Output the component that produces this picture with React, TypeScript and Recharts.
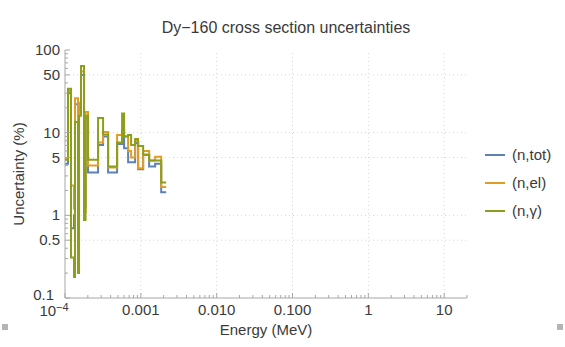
import React from 'react';
import { LineChart, Line, XAxis, YAxis, ReferenceLine } from 'recharts';

// Group boundaries (MeV) and relative uncertainties (%) per reaction channel
const energies = [
  1.0e-4, 1.095e-4, 1.2e-4, 1.315e-4, 1.356e-4, 1.485e-4, 1.531e-4, 1.627e-4,
  1.782e-4, 1.866e-4, 2.013e-4, 2.729e-4, 3.177e-4, 3.699e-4, 4.862e-4, 5.662e-4,
  6.017e-4, 6.796e-4, 7.445e-4, 8.41e-4, 9.21e-4, 1.073e-3, 1.287e-3, 1.545e-3,
  1.855e-3, 2.159e-3,
];
const totUnc = [
  4.2, 30, 0.7, 1.0, 22, 0.8, 20, 50, 1.27, 15, 3.3, 7.1, 9.0, 3.3, 7.3, 10.8,
  6.5, 4.4, 4.4, 7.5, 3.6, 5.4, 3.9, 4.2, 1.9, 1.9,
];
const elUnc = [
  4.9, 32, 2.3, 1.2, 26, 1.0, 23, 55, 1.1, 17.8, 4.0, 7.6, 10.2, 3.8, 9.4, 9.4,
  9.0, 6.0, 5.0, 8.0, 3.7, 6.0, 4.6, 5.1, 2.2, 2.2,
];
const gammaUnc = [
  4.7, 34, 0.31, 0.18, 13.5, 0.2, 16, 64, 0.88, 16, 4.7, 15, 9.5, 3.9, 7.6, 17,
  9.0, 9.4, 7.1, 8.4, 6.9, 5.4, 4.6, 4.6, 2.5, 2.5,
];

const seriesNames = ['(n,tot)', '(n,el)', '(n,\u03b3)'];
const seriesColors = ['#5e81b5', '#e19c24', '#8c9f1a'];

const xMajor = [1e-4, 1e-3, 1e-2, 1e-1, 1, 10];
const xLabels = ['10^-4', '0.001', '0.010', '0.100', '1', '10'];
const yMajor = [0.1, 0.5, 1, 5, 10, 50, 100];
const yLabels = ['0.1', '0.5', '1', '5', '10', '50', '100'];
const xGrid = [1e-3, 1e-2, 1e-1, 1, 10];
const yGrid = [0.5, 1, 5, 10, 50];

const X_DOMAIN: [number, number] = [1e-4, 20];
const Y_DOMAIN: [number, number] = [0.1, 100];

const data = energies.map((e, i) => ({
  energy: e,
  tot: totUnc[i],
  el: elUnc[i],
  gamma: gammaUnc[i],
}));

// log-spaced tick positions (1..9 per decade) inside a range
function logTicks(lo: number, hi: number): number[] {
  const out: number[] = [];
  for (let p = Math.floor(Math.log10(lo)); p <= Math.ceil(Math.log10(hi)); p++) {
    for (let m = 1; m <= 9; m++) {
      const v = m * Math.pow(10, p);
      if (v >= lo * 0.999 && v <= hi * 1.001) out.push(Number(v.toPrecision(6)));
    }
  }
  return out;
}
const xTicks = logTicks(X_DOMAIN[0], X_DOMAIN[1]);
const yTicks = logTicks(Y_DOMAIN[0], Y_DOMAIN[1]);

const FRAME = '#a6a6a6';
const TEXT = '#3a3a3a';
const FONT = '"Liberation Sans", Arial, sans-serif';
const LINE_W = 2;

const findIdx = (arr: number[], v: number) =>
  arr.findIndex((m) => Math.abs(m - v) / m < 1e-6);

const BottomTick = (props: any) => {
  const { x, y, payload } = props;
  const idx = findIdx(xMajor, payload.value);
  const major = idx >= 0;
  const label = major ? xLabels[idx] : null;
  return (
    <g>
      <line x1={x} x2={x} y1={y} y2={y - (major ? 5 : 3)} stroke={FRAME} strokeWidth={1} />
      {label &&
        (label.startsWith('10^') ? (
          <text x={x - 11} y={y + 18} textAnchor="middle" fontSize={15} fill={TEXT} fontFamily={FONT}>
            10
            <tspan dy={-5} fontSize={11}>
              {'\u2212' + label.slice(4)}
            </tspan>
          </text>
        ) : (
          <text x={x} y={y + 17} textAnchor="middle" fontSize={15} fill={TEXT} fontFamily={FONT}>
            {label}
          </text>
        ))}
    </g>
  );
};

const TopTick = (props: any) => {
  const { x, y, payload } = props;
  const major = findIdx(xMajor, payload.value) >= 0;
  return <line x1={x} x2={x} y1={y} y2={y + (major ? 5 : 3)} stroke={FRAME} strokeWidth={1} />;
};

const LeftTick = (props: any) => {
  const { x, y, payload } = props;
  const idx = findIdx(yMajor, payload.value);
  const major = idx >= 0;
  // the lowest label sits a little left and up so it clears the 10^-4 label below
  const shift = idx === 0 ? 6 : 0;
  return (
    <g>
      <line x1={x} x2={x + (major ? 5 : 3)} y1={y} y2={y} stroke={FRAME} strokeWidth={1} />
      {major && (
        <text x={x - 5 - shift} y={y + (idx === 0 ? 2 : 5)} textAnchor="end" fontSize={15} fill={TEXT} fontFamily={FONT}>
          {yLabels[idx]}
        </text>
      )}
    </g>
  );
};

const RightTick = (props: any) => {
  const { x, y, payload } = props;
  const major = findIdx(yMajor, payload.value) >= 0;
  return <line x1={x} x2={x - (major ? 5 : 3)} y1={y} y2={y} stroke={FRAME} strokeWidth={1} />;
};

export default function App() {
  return (
    <div style={{ position: 'absolute', left: 0, top: 0, width: 565, height: 347, background: '#fff' }}>
      <LineChart
        width={565}
        height={347}
        data={data}
        margin={{ top: 50, right: 98, bottom: 0, left: 0 }}
      >
        <XAxis
          dataKey="energy"
          type="number"
          scale="log"
          domain={X_DOMAIN}
          allowDataOverflow
          ticks={xTicks}
          interval={0}
          height={49}
          tickSize={0}
          tickMargin={0}
          tick={<BottomTick />}
          axisLine={{ stroke: FRAME }}
        />
        <XAxis
          xAxisId="top"
          orientation="top"
          dataKey="energy"
          type="number"
          scale="log"
          domain={X_DOMAIN}
          allowDataOverflow
          ticks={xTicks}
          interval={0}
          height={0}
          tickSize={0}
          tickMargin={0}
          tick={<TopTick />}
          axisLine={{ stroke: FRAME }}
        />
        <YAxis
          type="number"
          scale="log"
          domain={Y_DOMAIN}
          allowDataOverflow
          ticks={yTicks}
          interval={0}
          width={65}
          tickSize={0}
          tickMargin={0}
          tick={<LeftTick />}
          axisLine={{ stroke: FRAME }}
        />
        <YAxis
          yAxisId="right"
          orientation="right"
          type="number"
          scale="log"
          domain={Y_DOMAIN}
          allowDataOverflow
          ticks={yTicks}
          interval={0}
          width={0}
          tickSize={0}
          tickMargin={0}
          tick={<RightTick />}
          axisLine={{ stroke: FRAME }}
        />
        {xGrid.map((v) => (
          <ReferenceLine key={'gx' + v} x={v} stroke="#d4d4d4" strokeDasharray="1 3" />
        ))}
        {yGrid.map((v) => (
          <ReferenceLine key={'gy' + v} y={v} stroke="#d4d4d4" strokeDasharray="1 3" />
        ))}
        <Line dataKey="tot" type="stepAfter" stroke={seriesColors[0]} strokeWidth={LINE_W} dot={false} isAnimationActive={false} />
        <Line dataKey="el" type="stepAfter" stroke={seriesColors[1]} strokeWidth={LINE_W} dot={false} isAnimationActive={false} />
        <Line dataKey="gamma" type="stepAfter" stroke={seriesColors[2]} strokeWidth={LINE_W} dot={false} isAnimationActive={false} />
      </LineChart>
      <svg
        width={565}
        height={347}
        style={{ position: 'absolute', left: 0, top: 0, pointerEvents: 'none' }}
        fontFamily={FONT}
      >
        <text x={286} y={33} textAnchor="middle" fontSize={16} fill={TEXT}>
          Dy{'\u2212'}160 cross section uncertainties
        </text>
        <text x={266} y={335} textAnchor="middle" fontSize={15} fill={TEXT}>
          Energy (MeV)
        </text>
        <text x={24} y={174} textAnchor="middle" fontSize={15} fill={TEXT} transform="rotate(-90 24 174)">
          Uncertainty (%)
        </text>
        {seriesNames.map((name, i) => (
          <g key={name}>
            <line x1={485} x2={505} y1={155 + i * 28} y2={155 + i * 28} stroke={seriesColors[i]} strokeWidth={LINE_W} />
            <text x={512} y={160 + i * 28} fontSize={15} fill={TEXT}>
              {name}
            </text>
          </g>
        ))}
        <rect x={2} y={324} width={6} height={6} fill="#b5b5b5" />
        <rect x={557} y={324} width={6} height={6} fill="#b5b5b5" />
      </svg>
    </div>
  );
}
